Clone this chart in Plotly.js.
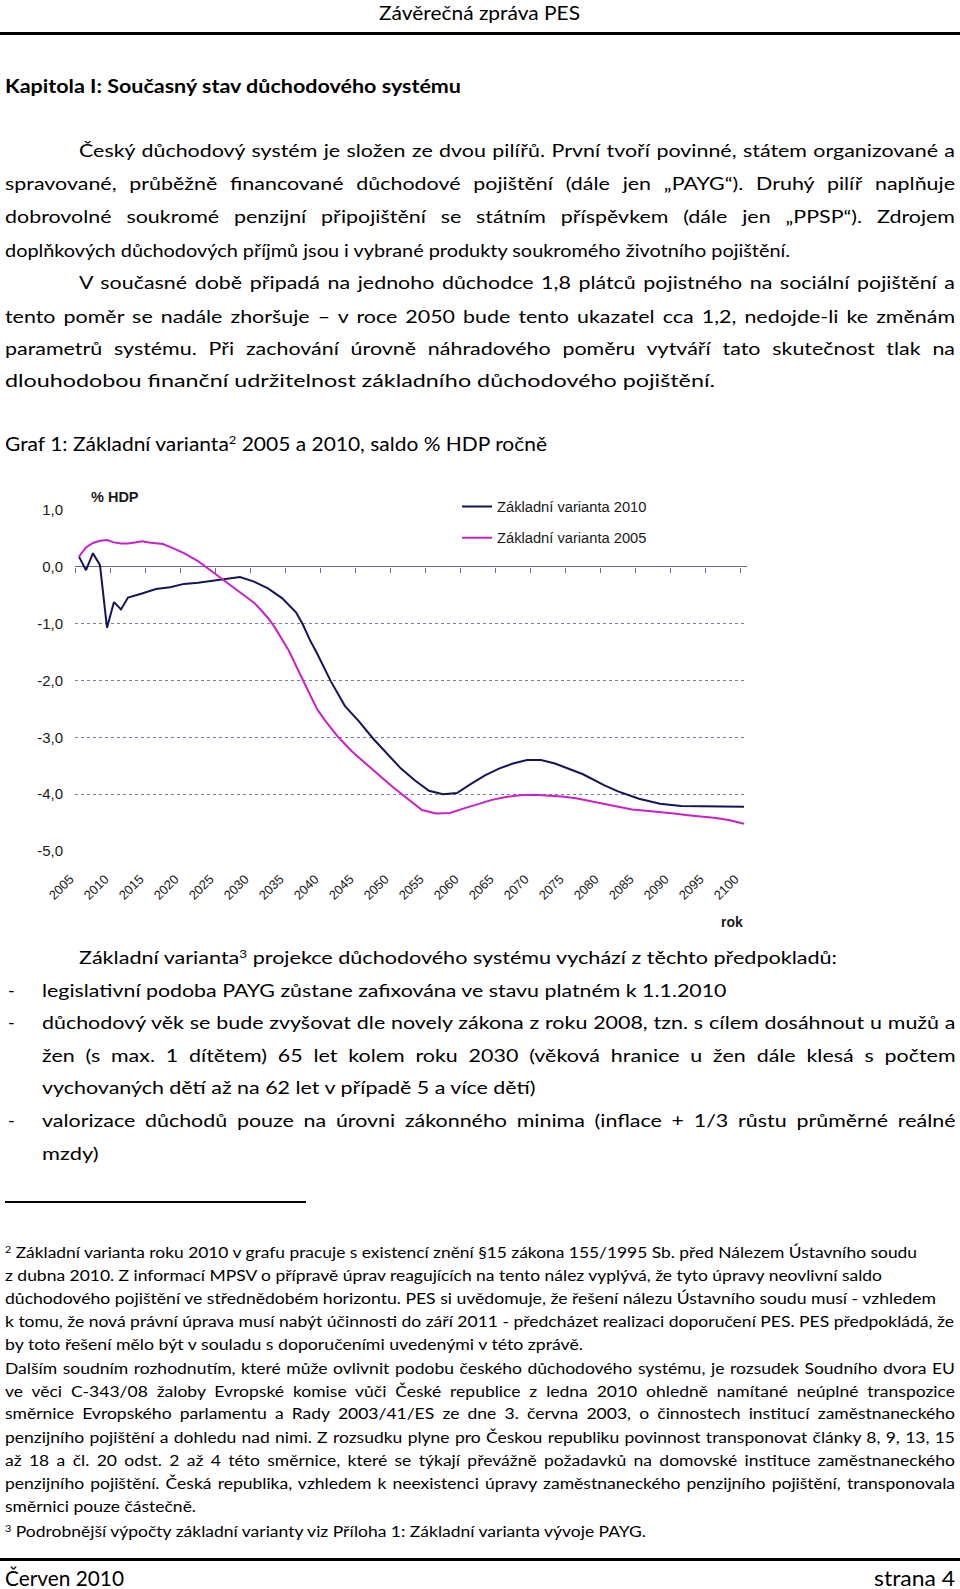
<!DOCTYPE html>
<html lang="cs">
<head>
<meta charset="utf-8">
<script src="https://cdn.plot.ly/plotly-3.0.1.min.js"></script>
<style>
  html,body{margin:0;padding:0;background:#fff;}
  #page{position:relative;width:960px;height:1589px;overflow:hidden;background:#fff;color:#000;font-family:Lato,"Open Sans",sans-serif;}
  .ln{position:absolute;white-space:nowrap;line-height:1.2;transform-origin:0 0;}
  .ln sup{font-size:62%;vertical-align:0;position:relative;top:-0.6em;}
  .rule{position:absolute;background:#000;}
  #chart{position:absolute;left:0;top:470px;width:780px;height:470px;}
</style>
</head>
<body>
<div id="page">
  <div class="rule" style="left:0;top:32px;width:960px;height:3px;"></div>
  <div class="rule" style="left:5px;top:1201px;width:301px;height:1.5px;"></div>
  <div class="rule" style="left:0;top:1558px;width:960px;height:3px;"></div>
  <div id="chart"></div>
</div>
<script>
// ---------------- chart data ----------------
const seriesNames = ['Základní varianta 2010', 'Základní varianta 2005'];

const years2010 = [2005,2006,2007,2008,2009,2010,2011,2012,2014,2016,2018,2020,2022,2024,2026,2028,2030,2032,2034,2036,2037,2038,2039,2040,2041,2043,2045,2047,2049,2051,2053,2055,2057,2059,2061,2063,2065,2067,2069,2071,2073,2075,2077,2080,2082,2085,2088,2091,2094,2097,2100];
const saldo2010 = [0.18,-0.06,0.24,0.03,-1.07,-0.62,-0.75,-0.54,-0.47,-0.39,-0.36,-0.30,-0.28,-0.25,-0.21,-0.18,-0.26,-0.38,-0.55,-0.80,-1.02,-1.29,-1.52,-1.77,-2.02,-2.45,-2.72,-3.02,-3.28,-3.55,-3.76,-3.94,-4.00,-3.98,-3.82,-3.67,-3.55,-3.46,-3.40,-3.40,-3.46,-3.55,-3.65,-3.84,-3.95,-4.08,-4.17,-4.21,-4.21,-4.21,-4.22];

const years2005 = [2005,2006,2007,2008,2009,2010,2011,2012,2013,2014,2015,2016,2017,2018,2019,2020,2021,2022,2023,2024,2025,2026,2027,2028,2029,2030,2031,2032,2033,2034,2035,2036,2037,2038,2039,2040,2042,2044,2046,2048,2050,2052,2054,2056,2058,2060,2062,2064,2066,2068,2070,2072,2074,2076,2078,2080,2082,2084,2086,2088,2090,2092,2094,2096,2098,2100];
const saldo2005 = [0.18,0.34,0.42,0.46,0.47,0.43,0.41,0.41,0.43,0.45,0.43,0.42,0.40,0.35,0.30,0.24,0.17,0.10,0.01,-0.08,-0.18,-0.26,-0.35,-0.44,-0.54,-0.63,-0.76,-0.90,-1.07,-1.27,-1.48,-1.74,-2.00,-2.26,-2.50,-2.68,-2.99,-3.25,-3.47,-3.68,-3.89,-4.08,-4.28,-4.34,-4.33,-4.25,-4.17,-4.10,-4.05,-4.02,-4.01,-4.02,-4.04,-4.07,-4.12,-4.17,-4.23,-4.27,-4.29,-4.31,-4.34,-4.37,-4.39,-4.42,-4.46,-4.52];

const tickYears  = [2005,2010,2015,2020,2025,2030,2035,2040,2045,2050,2055,2060,2065,2070,2075,2080,2085,2090,2095,2100];
const tickLabels = ['2005','2010','2015','2020','2025','2030','2035','2040','2045','2050','2055','2060','2065','2070','2075','2080','2085','2090','2095','2100'];
const yTickVals   = [1, 0, -1, -2, -3, -4, -5];
const yTickLabels = ['1,0','0,0','-1,0','-2,0','-3,0','-4,0','-5,0'];
const yUnitLabel = '% HDP';
const xUnitLabel = 'rok';

// ---------------- chart ----------------
const XR = [2004.43, 2100.43];
const chartFont = 'Liberation Sans, Arial, sans-serif';
const traces = [
  {x: years2010, y: saldo2010, name: seriesNames[0], type: 'scatter', mode: 'lines',
   line: {color: '#14145a', width: 2}, legendgroup: 'a', xaxis: 'x', yaxis: 'y'},
  {x: years2005, y: saldo2005, name: seriesNames[1], type: 'scatter', mode: 'lines',
   line: {color: '#cc1fcc', width: 2}, legendgroup: 'b', xaxis: 'x2', yaxis: 'y'}
];
const layout = {
  width: 780, height: 470,
  margin: {l: 75, r: 33, t: 40, b: 89},
  paper_bgcolor: 'rgba(0,0,0,0)', plot_bgcolor: 'rgba(0,0,0,0)',
  font: {family: chartFont, color: '#1a1a1a'},
  showlegend: true,
  legend: {x: 0.5685, y: 1.057, xanchor: 'left', yanchor: 'top', bgcolor: '#ffffff',
           font: {size: 14.7, family: chartFont, color: '#1a1a1a'},
           traceorder: 'grouped', tracegroupgap: 9, borderwidth: 0},
  xaxis: {range: XR, tickvals: tickYears, ticktext: tickLabels, tickangle: -45,
          showgrid: false, zeroline: false, showline: false, ticks: '',
          tickfont: {size: 13, family: chartFont, color: '#1a1a1a'},
          ticklabelstandoff: 17, ticklabelshift: -9},
  xaxis2: {range: XR, overlaying: 'x', anchor: 'free', position: 5/6, side: 'bottom',
           tickvals: tickYears.map(function(v){return v - 0.5;}), showticklabels: false,
           ticks: 'outside', ticklen: 5, tickwidth: 1.3, tickcolor: '#6a6a9a',
           showgrid: false, zeroline: false, showline: false},
  yaxis: {range: [-5, 1], tickvals: yTickVals, ticktext: yTickLabels,
          showgrid: true, gridcolor: '#7a7a9c', griddash: 'dot', gridwidth: 1,
          zeroline: true, zerolinecolor: '#6a6a9a', zerolinewidth: 1.3,
          showline: false, ticks: '', ticklabelstandoff: 11,
          tickfont: {size: 15, family: chartFont, color: '#1a1a1a'}},
  shapes: [{type: 'rect', xref: 'paper', yref: 'paper', x0: 0.4717, x1: 0.9717, y0: 0.96, y1: 1.02,
            fillcolor: '#ffffff', line: {width: 0}, layer: 'between'}],
  annotations: [
    {text: yUnitLabel, xref: 'paper', yref: 'paper', x: 0.0208, y: 1.0367, xanchor: 'left', yanchor: 'middle',
     showarrow: false, font: {size: 14.5, family: chartFont, color: '#1a1a1a', weight: 'bold'}},
    {text: xUnitLabel, xref: 'paper', yref: 'paper', x: 0.9777, y: -0.2073, xanchor: 'center', yanchor: 'middle',
     showarrow: false, font: {size: 14, family: chartFont, color: '#1a1a1a', weight: 'bold'}}
  ]
};
Plotly.newPlot('chart', traces, layout, {staticPlot: true, displayModeBar: false});

// ---------------- page text ----------------
const TEXT = [
  {g:'hd', h:'Závěrečná zpráva PES', x:379, r:580, cy:12.5, fs:19},
  {g:'kap', h:'Kapitola I: Současný stav důchodového systému', x:5, r:461, cy:85, fs:18.5, b:1},
  {g:'body', h:'Český důchodový systém je složen ze dvou pilířů. První tvoří povinné, státem organizované a', x:79, r:955, cy:150, fs:18, j:1},
  {g:'body', h:'spravované, průběžně financované důchodové pojištění (dále jen „PAYG“). Druhý pilíř naplňuje', x:5, r:955, cy:182.5, fs:18, j:1},
  {g:'body', h:'dobrovolné soukromé penzijní připojištění se státním příspěvkem (dále jen „PPSP“). Zdrojem', x:5, r:955, cy:216, fs:18, j:1},
  {g:'body', h:'doplňkových důchodových příjmů jsou i vybrané produkty soukromého životního pojištění.', x:5, r:790, cy:249.4, fs:18},
  {g:'body', h:'V současné době připadá na jednoho důchodce 1,8 plátců pojistného na sociální pojištění a', x:79, r:955, cy:281.8, fs:18, j:1},
  {g:'body', h:'tento poměr se nadále zhoršuje – v roce 2050 bude tento ukazatel cca 1,2, nedojde-li ke změnám', x:5, r:955, cy:315.3, fs:18, j:1},
  {g:'body', h:'parametrů systému. Při zachování úrovně náhradového poměru vytváří tato skutečnost tlak na', x:5, r:955, cy:347.7, fs:18, j:1},
  {g:'body', h:'dlouhodobou finanční udržitelnost základního důchodového pojištění.', x:5, r:715, cy:380, fs:18},
  {g:'cap', h:'Graf 1: Základní varianta<sup>2</sup> 2005 a 2010, saldo % HDP ročně', x:5, r:547, cy:443, fs:18.5},
  {g:'body', h:'Základní varianta<sup>3</sup> projekce důchodového systému vychází z těchto předpokladů:', x:79, r:837, cy:957, fs:18},
  {g:'dash', h:'-', x:8, r:null, cy:989.4, fs:18},
  {g:'body', h:'legislativní podoba PAYG zůstane zafixována ve stavu platném k 1.1.2010', x:41.5, r:726, cy:989.4, fs:18},
  {g:'dash', h:'-', x:8, r:null, cy:1022, fs:18},
  {g:'body', h:'důchodový věk se bude zvyšovat dle novely zákona z roku 2008, tzn. s cílem dosáhnout u mužů a', x:41.5, r:955, cy:1022, fs:18, j:1},
  {g:'body', h:'žen (s max. 1 dítětem) 65 let kolem roku 2030 (věková hranice u žen dále klesá s počtem', x:41.5, r:955, cy:1054.3, fs:18, j:1},
  {g:'body', h:'vychovaných dětí až na 62 let v případě 5 a více dětí)', x:41.5, r:535, cy:1086.7, fs:18},
  {g:'dash', h:'-', x:8, r:null, cy:1120, fs:18},
  {g:'body', h:'valorizace důchodů pouze na úrovni zákonného minima (inflace + 1/3 růstu průměrné reálné', x:41.5, r:955, cy:1120, fs:18, j:1},
  {g:'body', h:'mzdy)', x:41.5, r:98, cy:1152.6, fs:18},
  {g:'fn', h:'<sup>2</sup> Základní varianta roku 2010 v grafu pracuje s existencí znění §15 zákona 155/1995 Sb. před Nálezem Ústavního soudu', x:5, r:917, cy:1252, fs:14.5},
  {g:'fn', h:'z dubna 2010. Z informací MPSV o přípravě úprav reagujících na tento nález vyplývá, že tyto úpravy neovlivní saldo', x:5, r:882, cy:1275, fs:14.5},
  {g:'fn', h:'důchodového pojištění ve střednědobém horizontu. PES si uvědomuje, že řešení nálezu Ústavního soudu musí - vzhledem', x:5, r:936, cy:1297.6, fs:14.5},
  {g:'fn', h:'k tomu, že nová právní úprava musí nabýt účinnosti do září 2011 - předcházet realizaci doporučení PES. PES předpokládá, že', x:5, r:954, cy:1321, fs:14.5},
  {g:'fn', h:'by toto řešení mělo být v souladu s doporučeními uvedenými v této zprávě.', x:5, r:583, cy:1344, fs:14.5},
  {g:'fn', h:'Dalším soudním rozhodnutím, které může ovlivnit podobu českého důchodového systému, je rozsudek Soudního dvora EU', x:5, r:955, cy:1367.5, fs:14.5, j:1},
  {g:'fn', h:'ve věci C-343/08 žaloby Evropské komise vůči České republice z ledna 2010 ohledně namítané neúplné transpozice', x:5, r:955, cy:1391, fs:14.5, j:1},
  {g:'fn', h:'směrnice Evropského parlamentu a Rady 2003/41/ES ze dne 3. června 2003, o činnostech  institucí zaměstnaneckého', x:5, r:955, cy:1413, fs:14.5, j:1},
  {g:'fn', h:'penzijního pojištění a dohledu nad nimi. Z rozsudku plyne pro Českou republiku povinnost transponovat články 8, 9, 13, 15', x:5, r:955, cy:1436.5, fs:14.5, j:1},
  {g:'fn', h:'až 18 a čl. 20 odst. 2 až 4 této směrnice, které se týkají převážně požadavků na domovské instituce zaměstnaneckého', x:5, r:955, cy:1460, fs:14.5, j:1},
  {g:'fn', h:'penzijního pojištění. Česká republika, vzhledem k neexistenci úpravy zaměstnaneckého penzijního pojištění, transponovala', x:5, r:955, cy:1483, fs:14.5, j:1},
  {g:'fn', h:'směrnici pouze částečně.', x:5, r:196, cy:1506, fs:14.5},
  {g:'fn', h:'<sup>3</sup> Podrobnější výpočty základní varianty viz Příloha 1: Základní varianta vývoje PAYG.', x:5, r:646, cy:1531, fs:14.5},
  {g:'ft', h:'Červen 2010', x:5, r:124, cy:1576.5, fs:21, lh:1},
  {g:'ft', h:'strana 4', x:874, r:955, cy:1576.5, fs:21, lh:1}
];

function layoutText(){
  const page = document.getElementById('page');
  const items = TEXT.map(function(t){
    const d = document.createElement('div');
    const lh = t.lh || 1.2;
    d.className = 'ln';
    d.innerHTML = t.h;
    d.style.left = t.x + 'px';
    d.style.lineHeight = String(lh);
    d.style.top = Math.max(0, t.cy - 0.53 * t.fs + (1.2 - lh) * t.fs / 2) + 'px';
    d.style.fontSize = t.fs + 'px';
    if (t.b) d.style.fontWeight = '700';
    page.appendChild(d);
    return {t: t, d: d, w: d.getBoundingClientRect().width};
  });
  const gs = {};
  items.forEach(function(o){
    if (!o.t.j && o.t.r !== null) {
      const T = o.t.r - o.t.x;
      if (T > 250) {
        gs[o.t.g] = gs[o.t.g] || {T: 0, w: 0};
        gs[o.t.g].T += T; gs[o.t.g].w += o.w;
      }
    }
  });
  items.forEach(function(o){
    if (o.t.r === null) return;
    const T = o.t.r - o.t.x;
    let s;
    if (o.t.j) {
      const G = gs[o.t.g];
      s = G ? G.T / G.w : T / o.w;
      const n = (o.d.textContent.trim().replace(/\s+/g, ' ').match(/ /g) || []).length;
      const ws = n ? (T - o.w * s) / (n * s) : 0;
      o.d.style.wordSpacing = ws + 'px';
    } else {
      s = T / o.w;
    }
    o.d.style.transform = 'scaleX(' + s + ')';
  });
}
if (document.fonts && document.fonts.ready) { document.fonts.ready.then(layoutText); } else { layoutText(); }
</script>
</body>
</html>
